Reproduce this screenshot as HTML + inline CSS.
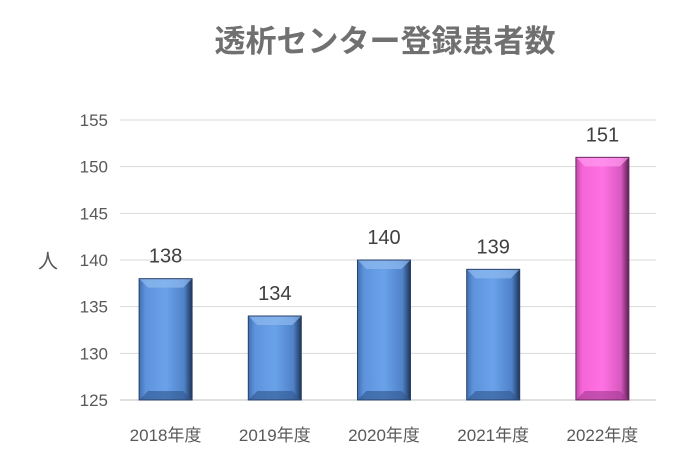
<!DOCTYPE html>
<html><head><meta charset="utf-8"><style>
body{margin:0;background:#fff;width:690px;height:470px;overflow:hidden}
text{font-family:"Liberation Sans","Noto Sans CJK JP",sans-serif}
</style></head><body>
<svg id="c" width="690" height="470" xmlns="http://www.w3.org/2000/svg">
<defs>
<linearGradient id="gb" x1="0" x2="1" y1="0" y2="0">
<stop offset="0" stop-color="#3f6fb0"/><stop offset="0.12" stop-color="#5e93dc"/><stop offset="0.5" stop-color="#6aa2ea"/><stop offset="0.85" stop-color="#4f82c8"/><stop offset="1" stop-color="#1f3558"/></linearGradient>
<linearGradient id="gp" x1="0" x2="1" y1="0" y2="0">
<stop offset="0" stop-color="#c04aa8"/><stop offset="0.12" stop-color="#f565d8"/><stop offset="0.5" stop-color="#ff72e4"/><stop offset="0.85" stop-color="#d858c0"/><stop offset="1" stop-color="#5a2050"/></linearGradient>
</defs>
<text x="385" y="52" text-anchor="middle" font-size="31" font-weight="bold" fill="#707070">透析センター登録患者数</text>
<text x="48" y="268" text-anchor="middle" font-size="20" fill="#595959">人</text>
<g id="grid"></g><g id="bars"></g>
</svg>
<script>
const categories=["2018年度","2019年度","2020年度","2021年度","2022年度"];
const values=[138,134,140,139,151];
const highlight=[false,false,false,false,true];
const yTicks=[125,130,135,140,145,150,155];
const svg=document.getElementById('c'),ns="http://www.w3.org/2000/svg";
const y0=400,y1=120,vmin=125,vmax=155,x0=120,x1=656;
const y=v=>y0-(v-vmin)/(vmax-vmin)*(y0-y1);
const band=(x1-x0)/categories.length;
const xc=i=>x0+band*(i+0.5)-8+i*2;
function mk(t,a,p){const e=document.createElementNS(ns,t);for(const k in a)e.setAttribute(k,a[k]);(p||svg).appendChild(e);return e;}
const g=document.getElementById('grid'),b=document.getElementById('bars');
yTicks.forEach(t=>{
 const l=mk('line',{x1:x0,x2:x1,y1:y(t),y2:y(t),stroke:t==vmin?'#bfbfbf':'#d9d9d9','stroke-width':1},g);
 
 
 const tx=mk('text',{x:108,y:y(t)+6,'text-anchor':'end','font-size':17,fill:'#595959'},g);tx.textContent=t;
 
 
});
const w=53,bv=9;
values.forEach((v,i)=>{
 const cx=xc(i),L=cx-w/2,R=cx+w/2,T=y(v),B=y0;
 const r=mk('rect',{x:L,y:T,width:w,height:B-T,fill:highlight[i]?'url(#gp)':'url(#gb)'},b);
 
 
 const top=mk('polygon',{points:`${L},${T} ${R},${T} ${R-bv},${T+bv} ${L+bv},${T+bv}`,fill:highlight[i]?'#ff9af0':'#8fbaf0',opacity:0.7},b);
 
 
 const bot=mk('polygon',{points:`${L},${B} ${R},${B} ${R-bv},${B-bv} ${L+bv},${B-bv}`,fill:highlight[i]?'#a03890':'#2f558c',opacity:0.6},b);
 
 
 mk('rect',{x:L,y:T,width:w,height:B-T,fill:'none',stroke:highlight[i]?'#6a2a5e':'#2a4068','stroke-width':1},b);
 const lb=mk('text',{x:cx,y:T-16,'text-anchor':'middle','font-size':20,fill:'#404040'},b);lb.textContent=v;
 
 
 const cl=mk('text',{x:cx,y:441,'text-anchor':'middle','font-size':17,fill:'#595959'},b);cl.textContent=categories[i];
 
 
});
</script>
</body></html>
